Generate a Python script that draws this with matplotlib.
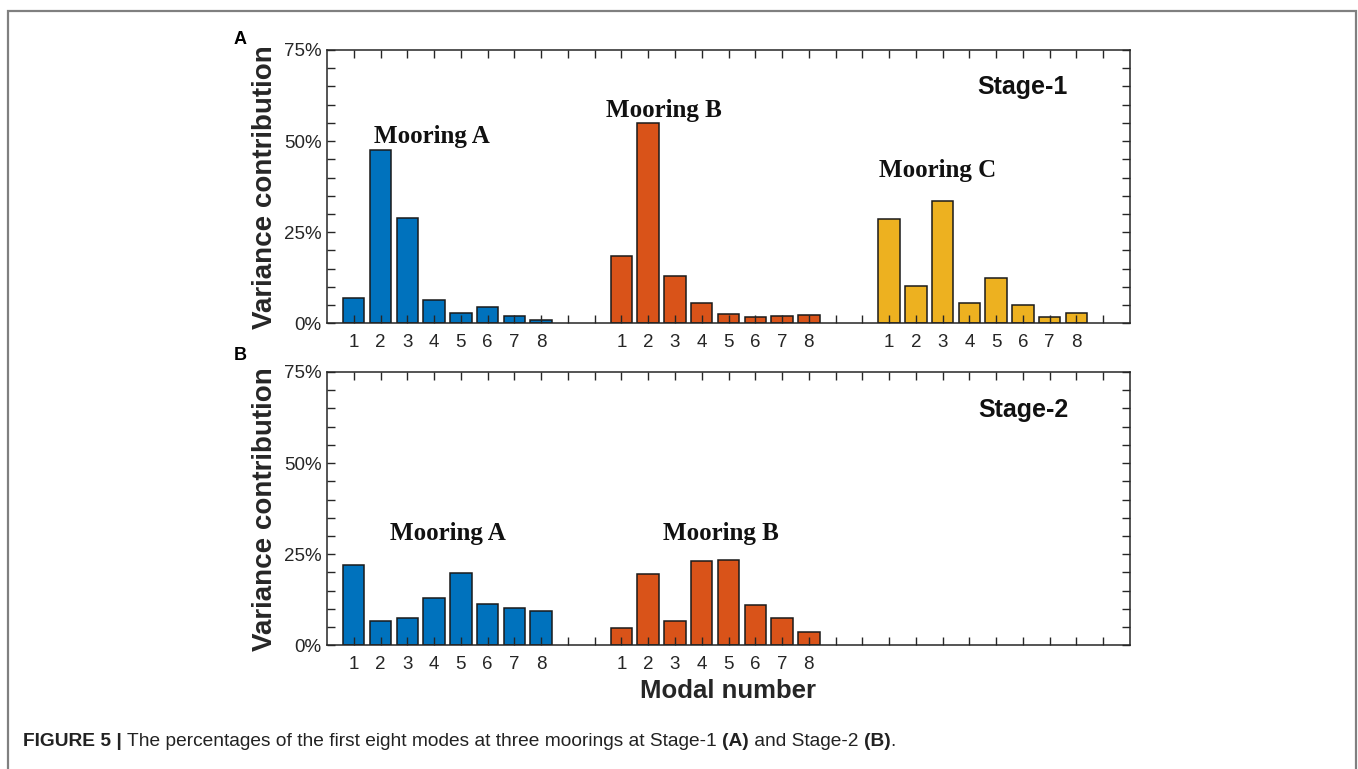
import matplotlib
matplotlib.use('Agg')
import matplotlib.pyplot as plt
from matplotlib.ticker import FixedLocator, MultipleLocator, FuncFormatter
from matplotlib.patches import Rectangle

plt.rcParams['font.family'] = ['Liberation Sans', 'DejaVu Sans']

# modal numbers and variance contribution (%)
modes = [1, 2, 3, 4, 5, 6, 7, 8]
stage1_a = [7.0, 47.6, 28.9, 6.5, 2.9, 4.6, 2.1, 0.8]
stage1_b = [18.6, 54.9, 13.1, 5.6, 2.5, 1.6, 1.9, 2.2]
stage1_c = [28.7, 10.2, 33.5, 5.7, 12.3, 5.1, 1.8, 2.8]
stage2_a = [21.9, 6.6, 7.4, 13.1, 19.9, 11.3, 10.3, 9.4]
stage2_b = [4.8, 19.7, 6.8, 23.2, 23.3, 11.1, 7.6, 3.6]
group_offsets = [0, 10, 20]
mooring_names = ['Mooring A', 'Mooring B', 'Mooring C']
colors = ['#0072BD', '#D95319', '#EDB120']
axis_col = '#262626'

fig = plt.figure(figsize=(13.58, 7.69), dpi=100)

# outer frame of the figure box
fig.patches.append(Rectangle((8 / 1358, -0.05), 1348 / 1358, 1 - 11 / 769 + 0.05,
                             transform=fig.transFigure, fill=False,
                             edgecolor='#808080', linewidth=1.6))

ax1 = fig.add_axes([327 / 1358, 1 - 323.3 / 769, 803 / 1358, 273.3 / 769])
ax2 = fig.add_axes([327 / 1358, 1 - 645.3 / 769, 803 / 1358, 273.3 / 769])


def setup_axes(ax, n_groups):
    ax.set_xlim(0, 30)
    ax.set_ylim(0, 75)
    ticks = list(range(1, 30))
    ax.xaxis.set_major_locator(FixedLocator(ticks))
    labels = []
    for t in ticks:
        m = (t - 1) % 10 + 1
        g = (t - 1) // 10
        labels.append(str(m) if (m <= 8 and g < n_groups) else '')
    ax.set_xticklabels(labels)
    ax.yaxis.set_major_locator(MultipleLocator(25))
    ax.yaxis.set_minor_locator(MultipleLocator(5))
    ax.yaxis.set_major_formatter(FuncFormatter(lambda v, p: '%d%%' % v))
    ax.tick_params(which='both', direction='in', top=True, right=True,
                   length=5.5, width=1, color=axis_col, labelcolor=axis_col,
                   labelsize=13.5)
    ax.tick_params(axis='x', pad=8)
    ax.tick_params(axis='y', pad=4)
    for s in ax.spines.values():
        s.set_color(axis_col)
        s.set_linewidth(1.1)
    ax.set_ylabel('Variance contribution', fontsize=20, fontweight='bold',
                  color=axis_col, labelpad=4)


def draw_group(ax, vals, g):
    xs = [m + group_offsets[g] for m in modes]
    ax.bar(xs, vals, width=0.8, color=colors[g], edgecolor='#1a1a1a',
           linewidth=1.1, zorder=1)


setup_axes(ax1, 3)
setup_axes(ax2, 2)

draw_group(ax1, stage1_a, 0)
draw_group(ax1, stage1_b, 1)
draw_group(ax1, stage1_c, 2)
draw_group(ax2, stage2_a, 0)
draw_group(ax2, stage2_b, 1)

serif = dict(family=['Liberation Serif', 'DejaVu Serif'], fontsize=18,
             fontweight='bold', ha='center', va='center', color='#111111')
ax1.text(3.9, 51.2, mooring_names[0], **serif)
ax1.text(12.6, 58.3, mooring_names[1], **serif)
ax1.text(22.8, 42.0, mooring_names[2], **serif)
ax2.text(4.5, 30.7, mooring_names[0], **serif)
ax2.text(14.7, 30.8, mooring_names[1], **serif)

ax1.text(26.0, 64.8, 'Stage-1', fontsize=18, fontweight='bold',
         ha='center', va='center', color='#111111')
ax2.text(26.0, 64.6, 'Stage-2', fontsize=18, fontweight='bold',
         ha='center', va='center', color='#111111')

ax2.set_xlabel('Modal number', fontsize=18.5, fontweight='bold',
               color=axis_col, labelpad=4)

fig.text(240 / 1358, 1 - 40 / 769, 'A', fontsize=13, fontweight='bold',
         ha='center', va='center')
fig.text(240 / 1358, 1 - 356 / 769, 'B', fontsize=13, fontweight='bold',
         ha='center', va='center')

# caption, bold and regular pieces chained one after another
pieces = [('FIGURE 5 | ', 'bold'),
          ('The percentages of the first eight modes at three moorings at Stage-1 ', 'normal'),
          ('(A)', 'bold'), (' and Stage-2 ', 'normal'), ('(B)', 'bold'), ('.', 'normal')]
cap_size = 13.8
anchor = fig.text(23 / 1358, 1 - 746 / 769, pieces[0][0], fontsize=cap_size,
                  fontweight=pieces[0][1], color='#222222',
                  ha='left', va='baseline')
for txt, w in pieces[1:]:
    anchor = fig.text(0, 0, txt, fontsize=cap_size, fontweight=w,
                      color='#222222', ha='left', va='baseline')
    anchor.remove()
    break

anchor = fig.texts[-1]
for txt, w in pieces[1:]:
    anchor = ax2.annotate(txt, xy=(1, 0), xycoords=anchor, xytext=(0, 0),
                          textcoords='offset points', fontsize=cap_size,
                          fontweight=w, color='#222222',
                          ha='left', va='bottom', annotation_clip=False)

fig.savefig('out.png', dpi=100)
